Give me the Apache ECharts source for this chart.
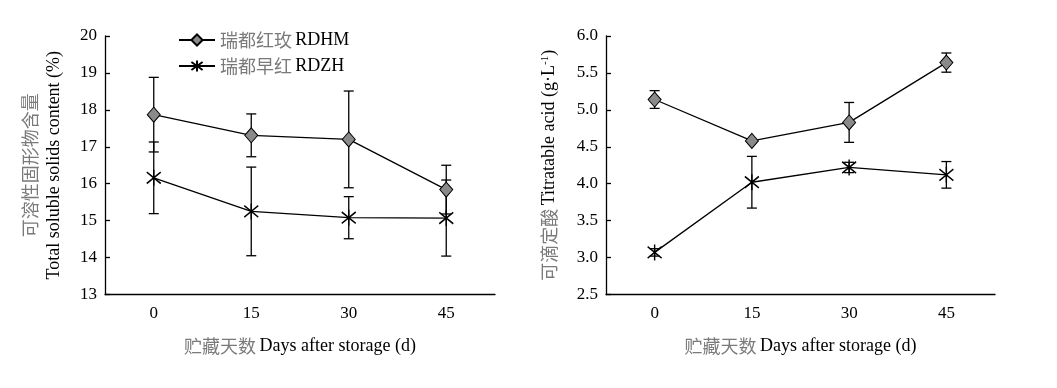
<!DOCTYPE html>
<html><head><meta charset="utf-8">
<script src="https://cdn.jsdelivr.net/npm/echarts@6/dist/echarts.min.js"></script>
<style>html,body{margin:0;padding:0;background:#fff}#c{width:1057px;height:388px}</style>
</head><body><div id="c"></div>
<script>
const days = ['0', '15', '30', '45'];
const tssRDHM = [17.87, 17.31, 17.20, 15.84];
const tssRDHMErr = [1.01, 0.58, 1.31, 0.66];
const tssRDZH = [16.16, 15.25, 15.08, 15.07];
const tssRDZHErr = [0.97, 1.20, 0.57, 1.03];
const taRDHM = [5.14, 4.58, 4.83, 5.64];
const taRDHMErr = [0.12, 0.02, 0.27, 0.13];
const taRDZH = [3.07, 4.02, 4.22, 4.12];
const taRDZHErr = [0.05, 0.35, 0.07, 0.18];
const leftTicks = [13, 20, 1];
const rightTicks = [2.5, 6.0, 0.5];

const EN = '"Liberation Serif", "Times New Roman", serif';
const CN = '"Noto Sans CJK SC", sans-serif';
const GRAY = '#7a7a7a';
const starPath = 'path://M5,0 L5,14 M0,2 L10,12 M0,12 L10,2';

function errData(vals, errs) { return vals.map((v, i) => [i, v - errs[i], v + errs[i]]); }
function errRender(params, api) {
  const x = api.value(0), lo = api.value(1), hi = api.value(2);
  const p1 = api.coord([x, hi]), p2 = api.coord([x, lo]);
  const w = 5, st = { stroke: '#000', lineWidth: 1.3 };
  return { type: 'group', children: [
    { type: 'line', shape: { x1: p1[0], y1: p1[1], x2: p2[0], y2: p2[1] }, style: st },
    { type: 'line', shape: { x1: p1[0] - w, y1: p1[1], x2: p1[0] + w, y2: p1[1] }, style: st },
    { type: 'line', shape: { x1: p2[0] - w, y1: p2[1], x2: p2[0] + w, y2: p2[1] }, style: st }
  ]};
}
const axisLine = { lineStyle: { color: '#000', width: 1.3 } };
const nameRich = { cn: { fontFamily: CN, fontSize: 18, color: GRAY }, en: { fontFamily: EN, fontSize: 18, color: '#000' } };
function xAx(gi) {
  return {
    type: 'category', gridIndex: gi, data: days, boundaryGap: true,
    axisLine: axisLine,
    axisTick: { alignWithLabel: true, inside: true, length: 6, lineStyle: { color: '#000', width: 1.3 } },
    axisLabel: { color: '#000', fontFamily: EN, fontSize: 17, margin: 11 },
    name: '{cn|贮藏天数} {en|Days after storage (d)}', nameLocation: 'middle', nameGap: 43,
    nameTextStyle: { rich: nameRich }
  };
}
function yAx(gi, t, fmt, name, gap, rich) {
  return {
    type: 'value', gridIndex: gi, min: t[0], max: t[1], interval: t[2],
    axisLine: { show: true, lineStyle: { color: '#000', width: 1.3 } },
    axisTick: { show: true, inside: true, length: 5, lineStyle: { color: '#000', width: 1.3 } },
    splitLine: { show: false },
    axisLabel: { color: '#000', fontFamily: EN, fontSize: 17, margin: 8, formatter: fmt },
    name: name, nameLocation: 'middle', nameRotate: 90, nameGap: gap,
    nameTextStyle: { rich: rich }
  };
}
const series = [];
function addSet(gi, vals, errs, name, isStar) {
  series.push({
    type: 'custom', xAxisIndex: gi, yAxisIndex: gi, renderItem: errRender,
    data: errData(vals, errs), encode: { x: 0, y: [1, 2] }, z: 1, silent: true
  });
  series.push({
    type: 'line', name: name, xAxisIndex: gi, yAxisIndex: gi, data: vals, z: 3,
    symbol: isStar ? starPath : 'diamond', symbolSize: isStar ? [14, 16] : [13, 15],
    lineStyle: { color: '#000', width: 1.3 },
    itemStyle: isStar ? { color: 'rgba(0,0,0,0)', borderColor: '#000', borderWidth: 1.5 }
                      : { color: '#8a8a8a', borderColor: '#000', borderWidth: 1 },
    animation: false
  });
}
addSet(0, tssRDHM, tssRDHMErr, '瑞都红玫 RDHM', false);
addSet(0, tssRDZH, tssRDZHErr, '瑞都早红 RDZH', true);
addSet(1, taRDHM, taRDHMErr, '瑞都红玫 RDHM', false);
addSet(1, taRDZH, taRDZHErr, '瑞都早红 RDZH', true);

const chart = echarts.init(document.getElementById('c'), null, { renderer: 'canvas' });
chart.setOption({
  animation: false,
  backgroundColor: '#fff',
  grid: [
    { left: 105, top: 36, width: 390, height: 258.5 },
    { left: 606, top: 36, width: 389, height: 258.5 }
  ],
  legend: {
    data: ['瑞都红玫 RDHM', '瑞都早红 RDZH'], orient: 'vertical', left: 178, top: 31, padding: 0,
    itemWidth: 36, itemHeight: 14, itemGap: 8,
    formatter: n => { const p = n.split(' '); return '{cn|' + p[0] + '} {en|' + p[1] + '}'; },
    textStyle: { rich: nameRich }
  },
  xAxis: [xAx(0), xAx(1)],
  yAxis: [
    yAx(0, leftTicks, v => String(v), '{cn|可溶性固形物含量}\n{en|Total soluble solids content (%)}', 39,
      { cn: { fontFamily: CN, fontSize: 18, color: GRAY, lineHeight: 24 }, en: { fontFamily: EN, fontSize: 18, color: '#000', lineHeight: 24 } }),
    yAx(1, rightTicks, v => v.toFixed(1), '{cn|可滴定酸} {en|Titratable acid (g·L}{sup|-1}{en|)}', 47,
      { cn: { fontFamily: CN, fontSize: 18, color: GRAY }, en: { fontFamily: EN, fontSize: 18, color: '#000' }, sup: { fontFamily: EN, fontSize: 11, color: '#000', verticalAlign: 'top', padding: [0, 0, 8, 0] } })
  ],
  series: series
});
</script></body></html>
